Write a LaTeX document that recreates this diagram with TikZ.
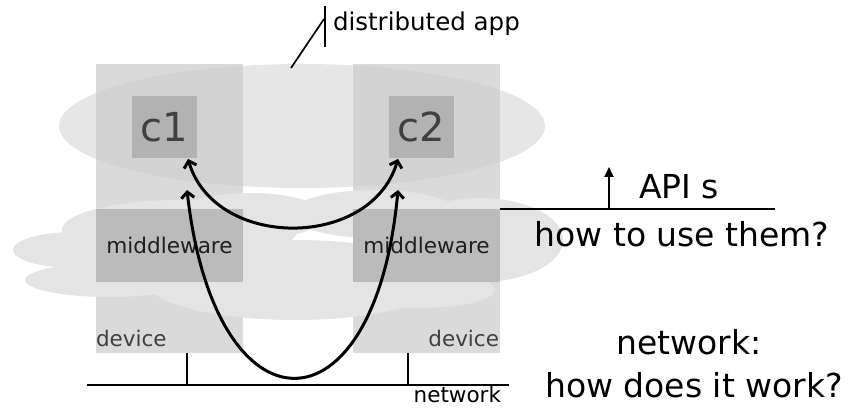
\documentclass[tikz,border=0pt]{standalone}
\usepackage{fontspec}
\setmainfont{DejaVu Sans}
\usetikzlibrary{arrows.meta,shapes.geometric}
\definecolor{devcol}{HTML}{DADADA}
\definecolor{appcol}{HTML}{CECECE}
\definecolor{cloudcol}{HTML}{E4E4E4}
\definecolor{cboxcol}{HTML}{B2B2B2}
\definecolor{mwcol}{HTML}{BBBBBB}
\definecolor{txtgray}{HTML}{404040}
\begin{document}
\begin{tikzpicture}[x=1pt,y=-1pt,
  devbox/.style={rectangle,fill=devcol,draw=none,inner sep=0,outer sep=0,minimum width=147pt,minimum height=289pt,anchor=north west},
  appell/.style={ellipse,fill=appcol,fill opacity=0.51,draw=none,inner sep=0,outer sep=0},
  cbox/.style={rectangle,fill=cboxcol,draw=none,inner sep=0,outer sep=0,minimum width=65pt,minimum height=62pt,text=txtgray,font=\fontsize{40}{42}\selectfont},
  mwbox/.style={rectangle,fill=mwcol,draw=none,inner sep=0,outer sep=0,minimum width=147pt,minimum height=73pt,text=black!88,font=\fontsize{21.6}{24}\selectfont},
  small/.style={inner sep=0,outer sep=0,font=\fontsize{21.5}{24}\selectfont},
  big/.style={inner sep=0,outer sep=0,font=\fontsize{33}{36}\selectfont},
  conn/.style={line width=3pt,{Straight Barb[length=6pt,width=13pt]}-{Straight Barb[length=6pt,width=13pt]}},
  wire/.style={line width=2.6pt},
  thin/.style={line width=1.7pt}]
\useasboundingbox (0,0) rectangle (849,411);

% devices
\node[devbox] (dev1) at (96,64) {};
\node[devbox] (dev2) at (353,64) {};

% distributed app ellipse
\node[appell,minimum width=486pt,minimum height=124pt] (app) at (302,126) {};

% middleware cloud
\fill[cloudcol]
  (180,230) ellipse [x radius=118pt, y radius=30pt]
  (75,250) ellipse [x radius=62pt, y radius=18pt]
  (110,280) ellipse [x radius=85pt, y radius=17pt]
  (295,280) ellipse [x radius=150pt, y radius=40pt]
  (250,216) ellipse [x radius=75pt, y radius=23pt]
  (375,214) ellipse [x radius=85pt, y radius=24pt]
  (480,240) ellipse [x radius=83pt, y radius=42pt]
  (420,290) ellipse [x radius=75pt, y radius=18pt];

% component boxes
\node[cbox] (c1) at (164.5,127) {c1};
\node[cbox] (c2) at (421.5,127) {c2};

% middleware boxes
\node[mwbox] (mw1) at (169.5,245.5) {middleware};
\node[mwbox] (mw2) at (426.5,245.5) {middleware};

% device labels
\node[small,text=txtgray,anchor=base west] (dl1) at (96,347) {device};
\node[small,text=txtgray,anchor=base east] (dl2) at (499,347) {device};

% arrows
\coordinate (c1tip) at (188,159);
\coordinate (c2tip) at (398,159);
\coordinate (lo1) at (187,190);
\coordinate (lo2) at (398,190);
\draw[conn] (c1tip) .. controls (215,250) and (371,250) .. (c2tip);
\draw[conn] (lo1) .. controls (215,440) and (375,440) .. (lo2);

% network
\coordinate (nl) at (87,385);
\coordinate (nr) at (509,385);
\coordinate (t1a) at (187,353);
\coordinate (t1b) at (187,385);
\coordinate (t2a) at (408,353);
\coordinate (t2b) at (408,385);
\draw[wire] (nl) -- (nr);
\draw[wire] (t1a) -- (t1b);
\draw[wire] (t2a) -- (t2b);
\node[small,anchor=base east] (netlbl) at (501,403) {network};

% distributed app label
\coordinate (ba) at (325,6);
\coordinate (bb) at (325,47);
\coordinate (dg1) at (291,68);
\coordinate (dg2) at (324,19);
\draw[wire] (ba) -- (bb);
\draw[thin] (dg1) -- (dg2);
\node[inner sep=0,outer sep=0,anchor=base west,font=\fontsize{24.5}{28}\selectfont] (applbl) at (333,31) {distributed app};

% APIs
\coordinate (al) at (500,209);
\coordinate (ar) at (775,209);
\coordinate (aa) at (609,209);
\coordinate (ab) at (609,167);
\draw[wire] (al) -- (ar);
\draw[line width=1.8pt,-{Triangle[length=10pt,width=9pt]}] (aa) -- (ab);
\node[big,anchor=base west] (apis) at (639,199) {API s};
\node[big,anchor=base] (howuse) at (682,247) {how to use them?};
\node[big,anchor=base] (netq) at (689,355) {network:};
\node[big,anchor=base] (howwork) at (694,398) {how does it work?};
\end{tikzpicture}
\end{document}
